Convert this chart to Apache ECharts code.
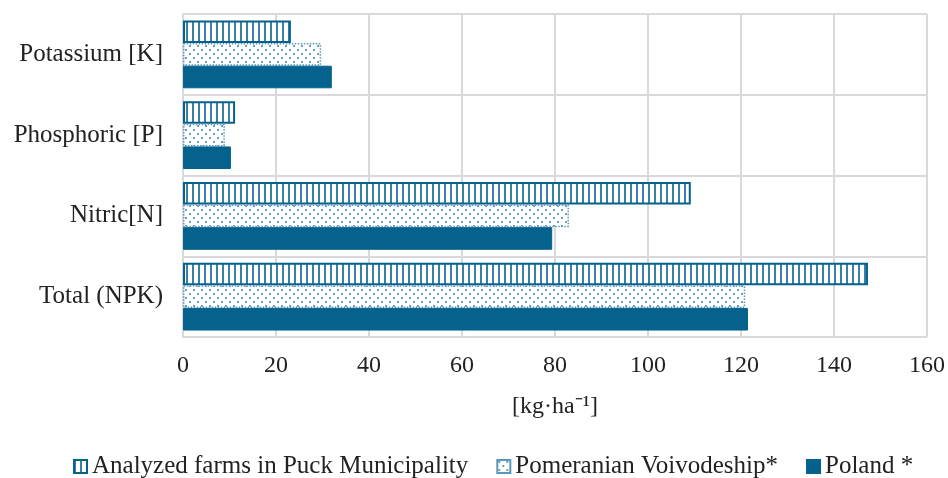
<!DOCTYPE html>
<html><head><meta charset="utf-8">
<script src="https://cdn.jsdelivr.net/npm/echarts@6/dist/echarts.min.js"></script>
<style>html,body{margin:0;padding:0;background:#fff}#c{width:948px;height:478px}</style>
</head><body><div id="c"></div>
<script>
const categories = ['Total (NPK)', 'Nitric[N]', 'Phosphoric [P]', 'Potassium [K]'];
const analyzed = [147.3, 109.2, 11.2, 23.2];
const pomeranian = [120.9, 83.0, 9.0, 29.7];
const poland = [121.5, 79.4, 10.3, 32.0];
const seriesNames = ['Analyzed farms in Puck Municipality', 'Pomeranian Voivodeship*', 'Poland *'];
const xTicks = {min: 0, max: 160, interval: 20};

const BLUE = '#04628d';
function stripePattern() {
  const c = document.createElement('canvas');
  c.width = 6; c.height = 6;
  const g = c.getContext('2d');
  g.fillStyle = '#fff'; g.fillRect(0, 0, 6, 6);
  g.fillStyle = '#3a80a6'; g.fillRect(0, 0, 2, 6);
  return c;
}
function dotPattern() {
  const c = document.createElement('canvas');
  c.width = 8; c.height = 8;
  const g = c.getContext('2d');
  g.fillStyle = '#fff'; g.fillRect(0, 0, 8, 8);
  g.fillStyle = '#6d9fbe';
  g.fillRect(1, 1, 2, 2);
  g.fillRect(5, 5, 2, 2);
  return c;
}
const font = '"Liberation Serif", "Times New Roman", serif';
const chart = echarts.init(document.getElementById('c'), null, {renderer: 'canvas'});
chart.setOption({
  animation: false,
  textStyle: {fontFamily: font},
  grid: {left: 183, right: 21, top: 14, bottom: 141, containLabel: false},
  legend: {
    bottom: -6, left: 68, icon: 'rect',
    data: [seriesNames[0], seriesNames[1], seriesNames[2]],
    itemWidth: 13, itemHeight: 13, itemGap: 28,
    textStyle: {fontFamily: font, fontSize: 25, color: '#222'}
  },
  xAxis: {
    type: 'value', min: xTicks.min, max: xTicks.max, interval: xTicks.interval,
    name: '[kg·ha⁻¹]', nameLocation: 'middle', nameGap: 58,
    nameTextStyle: {fontFamily: font, fontSize: 24, color: '#222'},
    axisLabel: {fontFamily: font, fontSize: 24, color: '#222', margin: 17},
    axisLine: {show: false}, axisTick: {show: false},
    splitLine: {lineStyle: {color: '#d9d9d9', width: 2}}
  },
  yAxis: {
    type: 'category', data: categories,
    axisLabel: {fontFamily: font, fontSize: 25, color: '#222', margin: 20},
    axisLine: {show: true, lineStyle: {color: '#d9d9d9', width: 2}},
    axisTick: {show: false},
    splitLine: {show: true, lineStyle: {color: '#d9d9d9', width: 2}}
  },
  series: [
    {name: seriesNames[0], type: 'bar', data: analyzed, barGap: '0%', barCategoryGap: '16%',
     itemStyle: {color: {image: stripePattern(), repeat: 'repeat'}, borderColor: BLUE, borderWidth: 2}},
    {name: seriesNames[1], type: 'bar', data: pomeranian, barGap: '0%', barCategoryGap: '16%',
     itemStyle: {color: {image: dotPattern(), repeat: 'repeat'}, borderColor: '#5b97b8', borderWidth: 1.5, borderType: 'dotted'}},
    {name: seriesNames[2], type: 'bar', data: poland, barGap: '0%', barCategoryGap: '16%',
     itemStyle: {color: BLUE, borderColor: BLUE, borderWidth: 1}}
  ]
});
</script></body></html>
